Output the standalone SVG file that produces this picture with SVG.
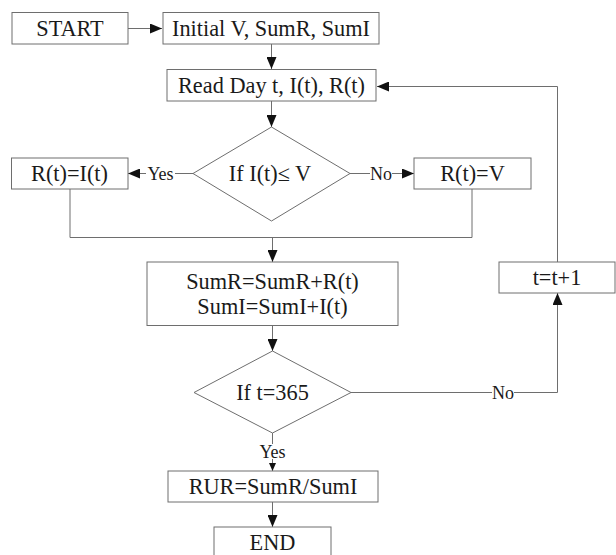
<svg xmlns="http://www.w3.org/2000/svg" width="616" height="555" viewBox="0 0 616 555">
<style>
.box{fill:#fff;stroke:#6e6e6e;stroke-width:1}
.t{font-family:"Liberation Serif","Times New Roman",serif;font-size:22.3px;fill:#1a1a1a;text-anchor:middle}
.lbl{font-family:"Liberation Serif","Times New Roman",serif;font-size:18px;fill:#1a1a1a;text-anchor:middle}
.ln{fill:none;stroke:#6e6e6e;stroke-width:1}
</style>
<defs>
<marker id="ah" markerWidth="12" markerHeight="10" refX="12" refY="5" orient="auto" markerUnits="userSpaceOnUse">
<path d="M0,0 L12,5 L0,10 Z" fill="#111"/>
</marker>
<marker id="ahs" markerWidth="8" markerHeight="7" refX="8" refY="3.5" orient="auto" markerUnits="userSpaceOnUse">
<path d="M0,0 L8,3.5 L0,7 Z" fill="#111"/>
</marker>
</defs>
<rect width="616" height="555" fill="#fff"/>
<g id="connectors">
<line class="ln" x1="128" y1="28.5" x2="162" y2="28.5" marker-end="url(#ah)"/>
<line class="ln" x1="271.5" y1="44" x2="271.5" y2="69" marker-end="url(#ah)"/>
<line class="ln" x1="271.5" y1="101" x2="271.5" y2="127" marker-end="url(#ah)"/>
<line class="ln" x1="193" y1="173.5" x2="175" y2="173.5"/>
<line class="ln" x1="146" y1="173.5" x2="128" y2="173.5" marker-end="url(#ah)"/>
<text class="lbl" x="160.5" y="179.5">Yes</text>
<line class="ln" x1="350" y1="173.5" x2="370" y2="173.5"/>
<line class="ln" x1="392" y1="173.5" x2="414" y2="173.5" marker-end="url(#ah)"/>
<text class="lbl" x="381" y="179.5">No</text>
<polyline class="ln" points="70,189 70,237.5 472,237.5 472,189"/>
<line class="ln" x1="272.5" y1="237.5" x2="272.5" y2="262" marker-end="url(#ah)"/>
<line class="ln" x1="272.5" y1="326" x2="272.5" y2="351" marker-end="url(#ah)"/>
<line class="ln" x1="351" y1="392.5" x2="492" y2="392.5"/>
<polyline class="ln" points="514,392.5 557.5,392.5 557.5,293" marker-end="url(#ah)"/>
<text class="lbl" x="503" y="398.5">No</text>
<polyline class="ln" points="557.5,262 557.5,86.5 377,86.5" marker-end="url(#ah)"/>
<line class="ln" x1="272.5" y1="433" x2="272.5" y2="444"/>
<text class="lbl" x="272.5" y="457.5">Yes</text>
<line class="ln" x1="272.5" y1="459" x2="272.5" y2="471" marker-end="url(#ahs)"/>
<line class="ln" x1="272.5" y1="502" x2="272.5" y2="527" marker-end="url(#ah)"/>
</g>
<g id="start"><rect class="box" x="12" y="12.5" width="116" height="31.5"/><text class="t" x="70" y="35.5">START</text></g>
<g id="init"><rect class="box" x="163" y="12.5" width="216" height="31.5"/><text class="t" x="271" y="35.5">Initial V, SumR, SumI</text></g>
<g id="read"><rect class="box" x="167" y="69.5" width="209" height="31.5"/><text class="t" x="271.5" y="93">Read Day t, I(t), R(t)</text></g>
<g id="cond1"><polygon class="box" points="271.5,127 350,173.5 271.5,221 193,173.5"/><text class="t" x="270" y="181">If I(t)≤  V</text></g>
<g id="rti"><rect class="box" x="11.5" y="158" width="116.5" height="31"/><text class="t" x="69.5" y="181">R(t)=I(t)</text></g>
<g id="rtv"><rect class="box" x="414" y="158" width="117" height="31"/><text class="t" x="472.5" y="181">R(t)=V</text></g>
<g id="sum"><rect class="box" x="147" y="262" width="251" height="63.5"/><text class="t" x="272.5" y="289">SumR=SumR+R(t)</text><text class="t" x="272.5" y="314">SumI=SumI+I(t)</text></g>
<g id="inc"><rect class="box" x="499" y="262" width="116" height="31"/><text class="t" x="557" y="285">t=t+1</text></g>
<g id="cond2"><polygon class="box" points="272.5,351 351,392.5 272.5,433 194,392.5"/><text class="t" x="272.5" y="400">If t=365</text></g>
<g id="rur"><rect class="box" x="168" y="471" width="210" height="31"/><text class="t" x="273" y="494">RUR=SumR/SumI</text></g>
<g id="end"><rect class="box" x="214" y="527" width="117" height="31"/><text class="t" x="272.5" y="550">END</text></g>
</svg>
